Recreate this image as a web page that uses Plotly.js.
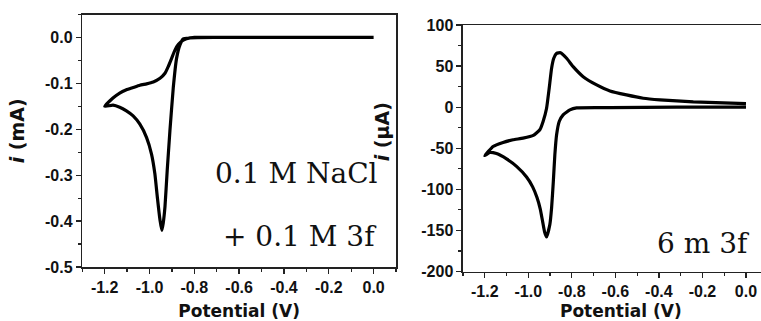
<!DOCTYPE html>
<html>
<head>
<meta charset="utf-8">
<script src="https://cdn.plot.ly/plotly-3.0.1.min.js"></script>
<style>html,body{margin:0;padding:0;background:#fff;overflow:hidden;}</style>
</head>
<body>
<div id="chart" style="width:761px;height:321px;"></div>
<script>
// Left panel: 0.1 M NaCl + 0.1 M 3f  (current in mA)
const leftPotential = [0.0, -0.2, -0.4, -0.6, -0.7, -0.8, -0.819, -0.849, -0.864, -0.879, -0.894, -0.909, -0.921, -0.931, -0.939, -0.945,
  -0.953, -0.965, -0.976, -0.991, -1.013, -1.043, -1.073, -1.103, -1.133, -1.163, -1.2,
  -1.163, -1.133, -1.103, -1.073, -1.043, -1.013, -0.983, -0.953, -0.931, -0.916, -0.901, -0.886, -0.871, -0.849, -0.819, -0.7, -0.5, -0.3, 0.0];
const leftCurrent = [0.0, 0.0, 0.0, 0.0, 0.0, 0.0, -0.001, -0.003, -0.016, -0.045, -0.110, -0.204, -0.290, -0.369, -0.405, -0.420,
  -0.398, -0.348, -0.297, -0.254, -0.218, -0.189, -0.171, -0.160, -0.152, -0.1475, -0.150,
  -0.132, -0.121, -0.114, -0.109, -0.104, -0.101, -0.097, -0.089, -0.078, -0.063, -0.045, -0.027, -0.015, -0.006, -0.001, 0.0, 0.0, 0.0, 0.0];

// Right panel: 6 m 3f  (current in µA)
const rightPotential = [0.0, -0.319, -0.625, -0.778, -0.809, -0.840, -0.858, -0.870, -0.878, -0.885, -0.893, -0.901, -0.916,
  -0.925, -0.935, -0.945, -0.960, -0.980, -1.008, -1.054, -1.100, -1.146, -1.177, -1.2,
  -1.162, -1.116, -1.070, -1.024, -0.977, -0.947, -0.932, -0.916, -0.904, -0.893, -0.883, -0.870, -0.852, -0.824, -0.794,
  -0.748, -0.686, -0.625, -0.549, -0.472, -0.395, -0.242, 0.0];
const rightCurrent = [0, 0, -0.5, -0.8, -3.3, -9.3, -17.4, -33.6, -57.9, -90.3, -122.6, -142.8, -158,
  -152, -138, -124, -110, -97, -85, -72.1, -63.0, -56.5, -55.0, -59,
  -47.8, -42.9, -39.7, -37.7, -34.4, -27.5, -17.4, -1.3, 23, 47.3, 59.5, 65.5, 66.3, 59.5, 49.3,
  37.1, 27.1, 19.8, 14.9, 10.9, 8.9, 6.4, 4.4];

// Tick labels
const xTickVals = [-1.2, -1.0, -0.8, -0.6, -0.4, -0.2, 0.0];
const xTickText = ['-1.2', '-1.0', '-0.8', '-0.6', '-0.4', '-0.2', '0.0'];
const leftYTickVals = [0.0, -0.1, -0.2, -0.3, -0.4, -0.5];
const leftYTickText = ['0.0', '-0.1', '-0.2', '-0.3', '-0.4', '-0.5'];
const rightYTickVals = [100, 50, 0, -50, -100, -150, -200];
const rightYTickText = ['100', '50', '0', '-50', '-100', '-150', '-200'];

const labelLeft1 = '0.1 M NaCl';
const labelLeft2 = '+ 0.1 M 3f';
const labelRight = '6 m 3f';

const baseFont = {family: 'Liberation Sans, Arial, sans-serif', size: 16, color: '#111', weight: 'bold'};
const titleFont = {family: 'DejaVu Sans', size: 17, color: '#111', weight: 'bold'};
const yTitleFont = {family: 'DejaVu Sans', size: 19, color: '#111', weight: 'bold'};
const serifFont = {family: 'DejaVu Serif', size: 28, color: '#111', weight: 'normal'};
const lineStyle = {color: '#000', width: 3.2, shape: 'spline', smoothing: 0.4};

const minorStyle = {ticks: 'outside', ticklen: 3, tickwidth: 1.2, tickcolor: '#222', tickmode: 'linear'};
const pad = n => '&nbsp;'.repeat(n);

const traces = [
  {x: leftPotential, y: leftCurrent, type: 'scatter', mode: 'lines', line: lineStyle, xaxis: 'x', yaxis: 'y', hoverinfo: 'skip'},
  {x: rightPotential, y: rightCurrent, type: 'scatter', mode: 'lines', line: lineStyle, xaxis: 'x2', yaxis: 'y2', hoverinfo: 'skip'}
];

function axis(extra) {
  return Object.assign({
    showline: true, linecolor: '#222', linewidth: 1.5,
    ticks: 'outside', ticklen: 5, tickwidth: 1.3, tickcolor: '#222',
    showgrid: false, zeroline: false, tickmode: 'array',
    tickfont: {family: baseFont.family, size: baseFont.size, color: baseFont.color, weight: baseFont.weight}
  }, extra);
}

const layout = {
  width: 761, height: 321,
  margin: {l: 0, r: 0, t: 0, b: 0},
  paper_bgcolor: '#fff', plot_bgcolor: '#fff',
  font: baseFont,
  showlegend: false,
  xaxis: axis({
    domain: [0.1081, 0.5204], range: [-1.3, 0.1], mirror: true, anchor: 'y',
    tickvals: xTickVals, ticktext: xTickText,
    minor: Object.assign({tick0: -1.3, dtick: 0.1}, minorStyle),
    title: {text: 'Potential (V)', font: titleFont, standoff: 11}
  }),
  yaxis: axis({
    domain: [0.1682, 0.9548], range: [-0.5, 0.05], mirror: true, anchor: 'x',
    tickvals: leftYTickVals, ticktext: leftYTickText,
    minor: Object.assign({tick0: -0.55, dtick: 0.1}, minorStyle),
    title: {text: pad(3) + '<i>i</i> (mA)', font: yTitleFont, standoff: 15}
  }),
  xaxis2: axis({
    domain: [0.6084, 1.0], range: [-1.3, 0.069], mirror: true, anchor: 'y2',
    tickvals: xTickVals, ticktext: xTickText,
    minor: Object.assign({tick0: -1.3, dtick: 0.1}, minorStyle),
    title: {text: pad(3) + 'Potential (V)', font: titleFont, standoff: 11}
  }),
  yaxis2: axis({
    domain: [0.1542, 0.9221], range: [-200, 100], mirror: false, anchor: 'x2',
    tickvals: rightYTickVals, ticktext: rightYTickText,
    minor: Object.assign({tick0: -175, dtick: 50}, minorStyle),
    title: {text: pad(5) + '<i>i</i> (μA)', font: yTitleFont, standoff: 26}
  }),
  annotations: [
    {text: labelLeft1, xref: 'paper', yref: 'paper', x: 0.4994, y: 0.458, xanchor: 'right', yanchor: 'middle', showarrow: false, font: serifFont},
    {text: labelLeft2, xref: 'paper', yref: 'paper', x: 0.4975, y: 0.262, xanchor: 'right', yanchor: 'middle', showarrow: false, font: serifFont},
    {text: labelRight, xref: 'paper', yref: 'paper', x: 0.988, y: 0.241, xanchor: 'right', yanchor: 'middle', showarrow: false, font: serifFont}
  ]
};

Plotly.newPlot('chart', traces, layout, {displayModeBar: false, staticPlot: true});
</script>
</body>
</html>
